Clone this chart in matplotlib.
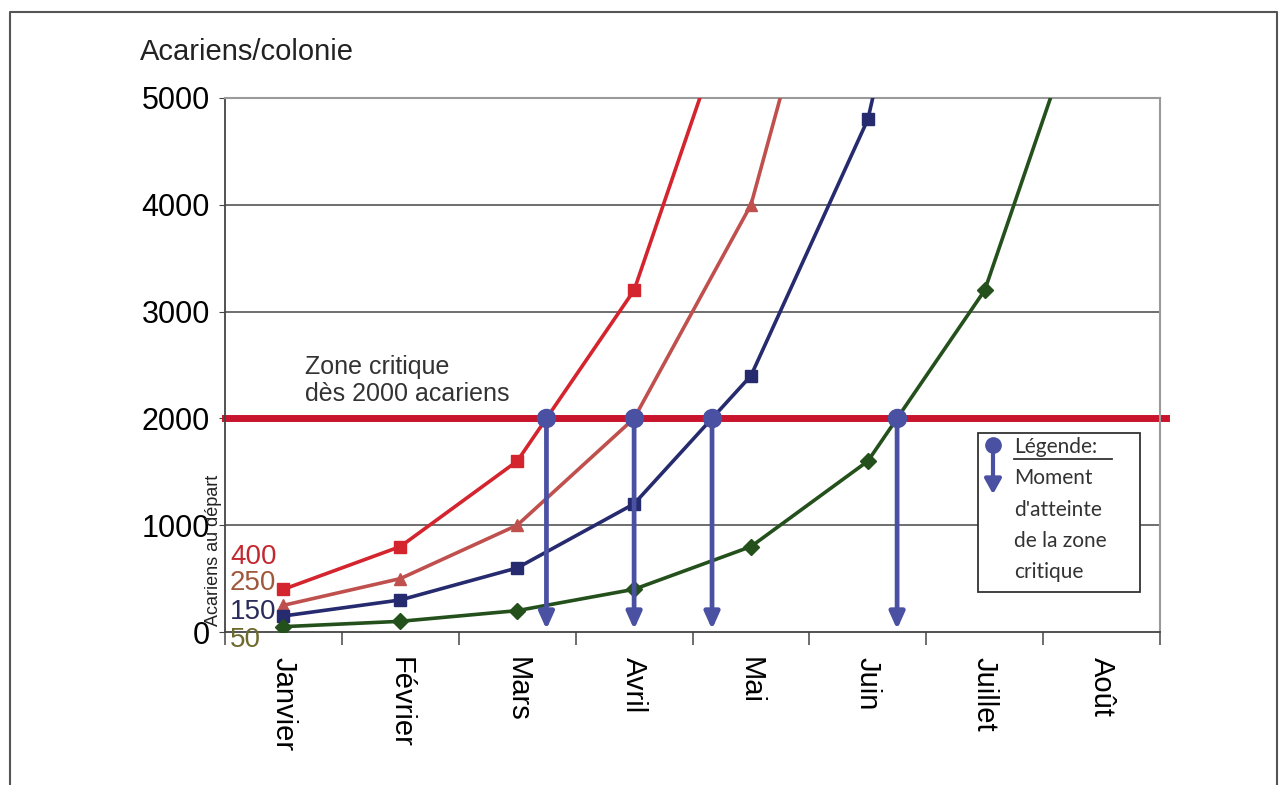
import numpy as np
import matplotlib
matplotlib.use("Agg")
from matplotlib import pyplot as plt
from matplotlib.patches import Rectangle, FancyArrowPatch
from matplotlib.lines import Line2D

plt.rcParams['font.family'] = ['Liberation Sans', 'DejaVu Sans']

# data
mois = ["Janvier", "Février", "Mars", "Avril", "Mai", "Juin", "Juillet", "Août"]
depart = [400, 250, 150, 50]
serie_400 = [400, 800, 1600, 3200, 6400]
serie_250 = [250, 500, 1000, 2000, 4000, 8000]
serie_150 = [150, 300, 600, 1200, 2400, 4800, 9600]
serie_50 = [50, 100, 200, 400, 800, 1600, 3200, 6400]
seuil = 2000
y_ticks = [0, 1000, 2000, 3000, 4000, 5000]
legende = ["Moment", "d'atteinte", "de la zone", "critique"]

series = [serie_400, serie_250, serie_150, serie_50]
couleurs = ["#d4242e", "#c0504d", "#262a6e", "#24501c"]
marqueurs = ["s", "^", "s", "D"]
tailles = [9, 8, 9, 8]
couleurs_label = ["#c4282f", "#a0583c", "#2c2c5c", "#6e6a2e"]
bleu = "#4a50a2"

W, H = 1280, 785


def fx(px):
    return px / W


def fy(py):
    return 1 - py / H


fig = plt.figure(figsize=(12.8, 7.85), dpi=100)
ax = fig.add_axes([0.1758, 0.1949, 0.7305, 0.6803])

# gridlines
for v in y_ticks[1:]:
    ax.axhline(v, color="#555555", lw=1.2, zorder=1)

# courbes
for vals, c, m, ms in zip(series, couleurs, marqueurs, tailles):
    x = np.arange(len(vals))
    ax.plot(x, vals, color=c, lw=2.6, marker=m, markersize=ms,
            markerfacecolor=c, markeredgecolor=c, zorder=3)

# zone critique
ax.axhline(seuil, xmin=0, xmax=1.006, color="#c8142c", lw=5, zorder=2, clip_on=False)
fig.text(fx(305), fy(367), "Zone critique", fontsize=18, color="#333333",
         va="center", ha="left")
fig.text(fx(305), fy(394), "dès 2000 acariens", fontsize=18, color="#333333",
         va="center", ha="left")

# moment d'atteinte
for vals in series:
    x = np.arange(len(vals))
    xc = np.interp(seuil, vals, x)
    ax.annotate("", xy=(xc, 25), xytext=(xc, seuil),
                arrowprops=dict(arrowstyle="-|>,head_length=1.0,head_width=0.45",
                                color=bleu, lw=3.4, shrinkA=0, shrinkB=0),
                zorder=4)
    ax.plot([xc], [seuil], "o", color=bleu, markersize=13, zorder=5)

ax.set_xlim(-0.5, len(mois) - 0.5)
ax.set_ylim(0, 5000)
ax.set_yticks(y_ticks)
ax.set_yticklabels([str(v) for v in y_ticks], fontsize=22)
ax.tick_params(axis="y", length=4, color="#444444", pad=7)

ax.set_xticks(np.arange(len(mois)))
ax.set_xticklabels(mois, rotation=-90, fontsize=21, va="top")
ax.set_xticks(np.arange(len(mois) + 1) - 0.5, minor=True)
ax.tick_params(axis="x", which="major", length=0, pad=18)
ax.tick_params(axis="x", which="minor", length=9, color="#555555", width=1.2)

for s in ["left", "bottom"]:
    ax.spines[s].set_color("#444444")
    ax.spines[s].set_linewidth(1.3)
for s in ["right", "top"]:
    ax.spines[s].set_color("#9a9a9a")
    ax.spines[s].set_linewidth(1.5)

# titre axe
fig.text(fx(140), fy(52), "Acariens/colonie", fontsize=21,
         va="center", ha="left", color="#222222")
fig.text(fx(214), fy(550), "Acariens au départ", fontsize=13,
         rotation=90, va="center", ha="center", color="#222222")

# valeurs de départ
pos_y = [557, 583, 612, 640]
for d, c, py in zip(depart, couleurs_label, pos_y):
    fig.text(fx(230), fy(py), str(d), fontsize=20, color=c,
             va="center", ha="left")

# légende
fig.add_artist(Rectangle((fx(978), fy(592)), 162 / W, 159 / H,
                         transform=fig.transFigure, facecolor="white",
                         edgecolor="#333333", lw=1.3, zorder=6))
fig.add_artist(FancyArrowPatch(
    (fx(993), fy(445)), (fx(993), fy(497)),
    transform=fig.transFigure, arrowstyle="-|>,head_length=9,head_width=5",
    color=bleu, lw=3, zorder=7))
fig.add_artist(Line2D([fx(993)], [fy(445)], marker="o", markersize=11,
                      color=bleu, transform=fig.transFigure, zorder=8))
police = ["Lato", "DejaVu Sans"]
fig.text(fx(1014), fy(447), "Légende:", fontsize=15, family=police,
         color="#333333", va="center", ha="left", zorder=8)
fig.add_artist(Line2D([fx(1014), fx(1112)], [fy(459)] * 2,
                      color="#333333", lw=1.3, transform=fig.transFigure, zorder=8))
for i, ligne in enumerate(legende):
    fig.text(fx(1014), fy(478 + 31.5 * i), ligne, fontsize=15, family=police,
             color="#333333", va="center", ha="left", zorder=8)

# cadre
fig.add_artist(Line2D([fx(10), fx(10), fx(1277), fx(1277)],
                      [0, fy(12), fy(12), 0], color="#555555", lw=1.5,
                      transform=fig.transFigure))

fig.savefig("out.png", dpi=100, facecolor="white")
